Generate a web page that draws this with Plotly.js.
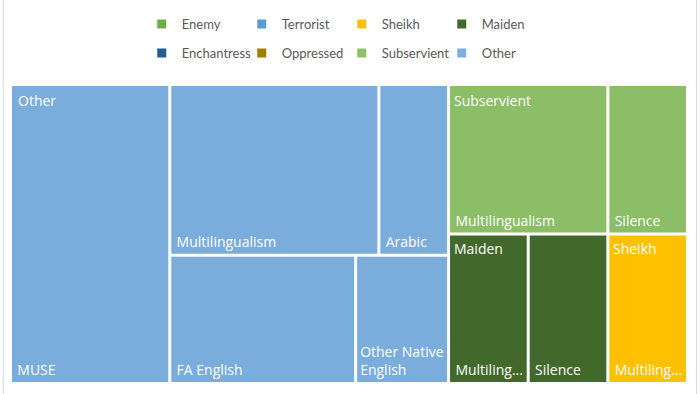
<!DOCTYPE html>
<html><head><meta charset="utf-8">
<script src="https://cdn.plot.ly/plotly-3.0.1.min.js"></script>
<style>body{margin:0;background:#fff}#chart{width:700px;height:394px}</style>
</head><body><div id="chart"></div>
<script>
// top-level groups, in display order
const groupNames = ['Other', 'Subservient', 'Maiden', 'Sheikh'];
const groupColors = ['#7AACDC', '#8BBE67', '#43682B', '#FFC000'];

// leaves
const leafGroups = ['Other','Other','Other','Other','Other','Subservient','Subservient','Maiden','Maiden','Sheikh'];
const leafLabels = ['MUSE','Multilingualism','Arabic','FA English','Other Native English','Multilingualism','Silence','Multilingualism','Silence','Multilingualism'];
const leafText   = ['MUSE','Multilingualism','Arabic','FA English','Other Native<br>English','Multilingualism','Silence','Multiling...','Silence','Multiling...'];
const leafValues = [4, 3, 1, 2, 1, 2, 1, 1, 1, 1];

// legend entries
const legendNames  = ['Enemy','Terrorist','Sheikh','Maiden','Enchantress','Oppressed','Subservient','Other'];
const legendColors = ['#70AD47','#5B9BD5','#FFC000','#43682B','#255E91','#9E7D00','#8CC168','#7CAFDD'];

const CELL_FONT = '"Open Sans", sans-serif';
const LEG_FONT = 'Lato, "Open Sans", sans-serif';

const ids = [], labels = [], parents = [], values = [], texts = [], colors = [];
groupNames.forEach((g, i) => {
  ids.push(g); labels.push(g); parents.push(''); values.push(0); texts.push(''); colors.push('#ffffff');
});
leafLabels.forEach((l, i) => {
  const g = leafGroups[i];
  ids.push(g + '/' + l); labels.push(l); parents.push(g); values.push(leafValues[i]);
  texts.push(leafText[i].indexOf('<br>') < 0 ? '\u2009' + leafText[i] : leafText[i]);
  colors.push(groupColors[groupNames.indexOf(g)]);
});

const treemap = {
  type: 'treemap',
  ids, labels, parents, values, text: texts,
  texttemplate: '%{text}',
  textposition: 'bottom left',
  textfont: {family: CELL_FONT, size: 14, color: '#ffffff'},
  branchvalues: 'remainder',
  sort: false,
  marker: {colors, line: {width: 0}, pad: {t: 0, l: 0, r: 0, b: 0}},
  leaf: {opacity: 1},
  tiling: {packing: 'squarify', squarifyratio: 1.0635, pad: 3},
  pathbar: {visible: false},
  hoverinfo: 'skip',
  domain: {x: [0, 1], y: [0, 1]}
};

const legendTraces = legendNames.map((n, i) => ({
  type: 'scatter', mode: 'markers', x: [null], y: [null], name: n,
  marker: {symbol: 'square', size: 9, color: legendColors[i]},
  legend: i < 4 ? 'legend' : 'legend2', hoverinfo: 'skip'
}));

// group label annotations (top-left of each group)
const groupSums = groupNames.map(g => leafValues.reduce((s, v, i) => s + (leafGroups[i] === g ? v : 0), 0));
const total = groupSums.reduce((a, b) => a + b, 0);
const restTotal = total - groupSums[0];
const xRight = groupSums[0] / total;
const ySplit = 1 - groupSums[1] / restTotal;
const xSheikh = xRight + (1 - xRight) * groupSums[2] / (groupSums[2] + groupSums[3]);
const annPos = [[0, 1], [xRight, 1], [xRight, ySplit], [xSheikh, ySplit]];
const annotations = groupNames.map((g, i) => ({
  text: g, xref: 'paper', yref: 'paper', x: annPos[i][0], y: annPos[i][1],
  xanchor: 'left', yanchor: 'top', xshift: 4, yshift: -3, showarrow: false,
  font: {family: CELL_FONT, size: 14, color: '#ffffff'}
}));

const PH = 296;
const legendCommon = {
  orientation: 'h', xanchor: 'left', yanchor: 'middle', x: 0.1925,
  entrywidth: 55, font: {family: LEG_FONT, size: 13, color: '#595959'},
  bgcolor: 'rgba(0,0,0,0)', itemclick: false, itemdoubleclick: false
};

const layout = {
  width: 700, height: 394,
  margin: {l: 12, r: 14, t: 86, b: 12, autoexpand: false},
  paper_bgcolor: '#ffffff', plot_bgcolor: '#ffffff',
  xaxis: {visible: false}, yaxis: {visible: false},
  showlegend: true,
  legend: Object.assign({}, legendCommon, {y: 1 + 62 / PH}),
  legend2: Object.assign({}, legendCommon, {y: 1 + 33 / PH}),
  annotations,
  shapes: [{type: 'rect', xref: 'paper', yref: 'paper', x0: -0.013, x1: 1.0155, y0: -0.05, y1: 1.30,
            line: {color: '#D9D9D9', width: 1}, fillcolor: 'rgba(0,0,0,0)', layer: 'below'}]
};

Plotly.newPlot('chart', [treemap].concat(legendTraces), layout, {displayModeBar: false, staticPlot: true});
</script>
</body></html>
